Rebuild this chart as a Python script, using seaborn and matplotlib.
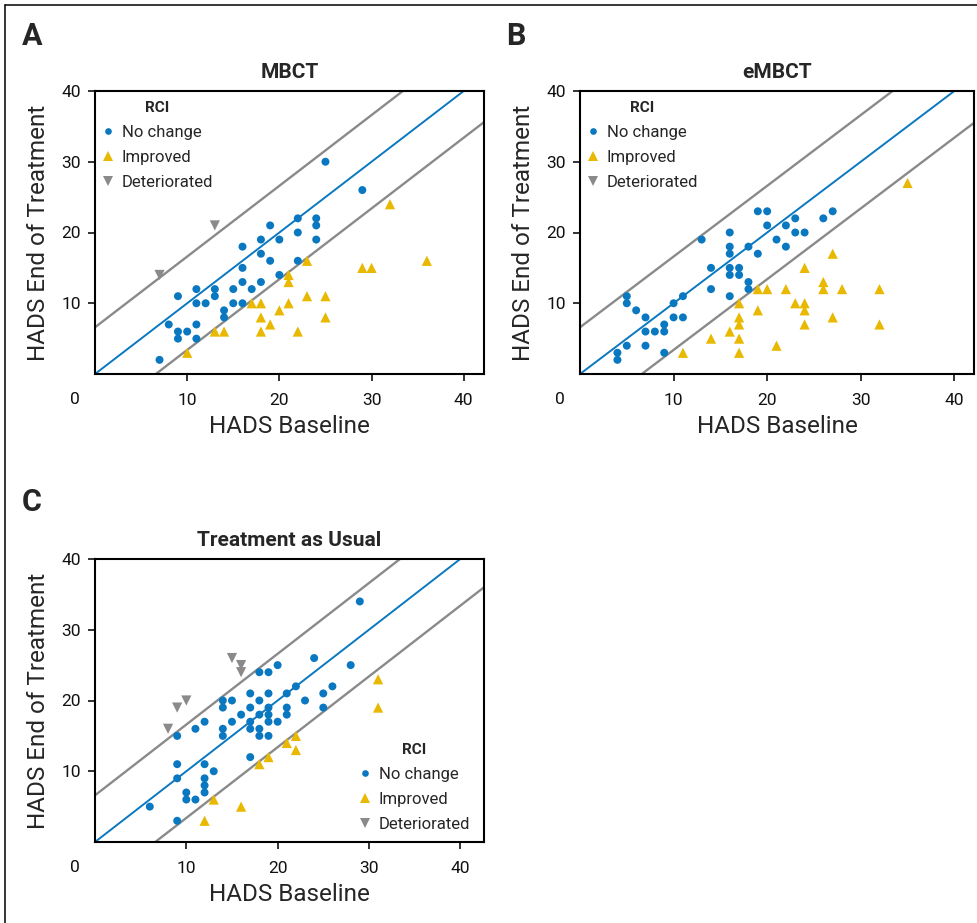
import matplotlib
matplotlib.use("Agg")
import matplotlib.pyplot as plt
from matplotlib.lines import Line2D
import seaborn as sns
import pandas as pd

sns.set_theme(style="ticks")
plt.rcParams['font.family'] = ['Roboto', 'DejaVu Sans']

BLUE = "#0a78c0"
YELLOW = "#e9b800"
GRAY = "#8a8a8a"

# RCI band around the identity line
RCI_BAND = 6.6

# --- A: MBCT ---
mbct_nc_base = [7, 8, 9, 9, 9, 10, 11, 11, 11, 11, 12, 13, 13, 14, 14, 15, 15, 16, 16, 16, 16,
                17, 18, 18, 18, 19, 19, 20, 20, 22, 22, 22, 24, 24, 24, 25, 29]
mbct_nc_end = [2, 7, 11, 6, 5, 6, 12, 10, 7, 5, 10, 12, 11, 9, 8, 12, 10, 18, 15, 13, 10,
               12, 19, 17, 13, 21, 16, 19, 14, 22, 20, 16, 22, 21, 19, 30, 26]
mbct_imp_base = [10, 13, 14, 17, 18, 18, 18, 19, 20, 21, 21, 21, 22, 23, 23, 25, 25, 29, 30, 32, 36]
mbct_imp_end = [3, 6, 6, 10, 10, 8, 6, 7, 9, 14, 13, 10, 6, 16, 11, 11, 8, 15, 15, 24, 16]
mbct_det_base = [7, 13]
mbct_det_end = [14, 21]

# --- B: eMBCT ---
embct_nc_base = [4, 4, 5, 5, 5, 6, 7, 7, 7, 8, 9, 9, 9, 10, 10, 11, 11, 13, 14, 14, 16, 16, 16,
                 16, 16, 16, 17, 17, 18, 18, 18, 19, 19, 20, 20, 21, 22, 22, 23, 23, 24, 26, 27]
embct_nc_end = [2, 3, 4, 10, 11, 9, 8, 6, 4, 6, 6, 7, 3, 10, 8, 11, 8, 19, 15, 12, 20, 18, 17,
                15, 14, 11, 15, 14, 18, 13, 12, 23, 17, 23, 21, 19, 21, 18, 22, 20, 20, 22, 23]
embct_imp_base = [11, 14, 16, 17, 17, 17, 17, 17, 19, 19, 20, 21, 22, 23, 24, 24, 24, 24, 26,
                  26, 27, 27, 28, 32, 32, 35]
embct_imp_end = [3, 5, 6, 10, 8, 7, 5, 3, 12, 9, 12, 4, 12, 10, 15, 10, 9, 7, 13,
                 12, 17, 8, 12, 12, 7, 27]
embct_det_base = []
embct_det_end = []

# --- C: Treatment as Usual ---
tau_nc_base = [6, 9, 9, 9, 9, 10, 10, 11, 11, 12, 12, 12, 12, 12, 13, 14, 14, 14, 14, 15, 15,
               16, 17, 17, 17, 17, 17, 18, 18, 18, 18, 18, 19, 19, 19, 19, 19, 19, 20, 20,
               21, 21, 21, 22, 23, 24, 25, 25, 26, 28, 29]
tau_nc_end = [5, 3, 9, 11, 15, 7, 6, 6, 16, 7, 8, 9, 11, 17, 10, 15, 16, 19, 20, 20, 17,
              18, 21, 19, 17, 16, 12, 24, 20, 18, 16, 15, 24, 21, 19, 18, 17, 15, 25, 17,
              21, 19, 18, 22, 20, 26, 21, 19, 22, 25, 34]
tau_imp_base = [12, 13, 16, 18, 19, 21, 22, 22, 31, 31]
tau_imp_end = [3, 6, 5, 11, 12, 14, 15, 13, 23, 19]
tau_det_base = [8, 9, 10, 15, 16, 16]
tau_det_end = [16, 19, 20, 26, 25, 24]

categories = ["No change", "Improved", "Deteriorated"]
cat_colors = {"No change": BLUE, "Improved": YELLOW, "Deteriorated": GRAY}
cat_markers = {"No change": "o", "Improved": "^", "Deteriorated": "v"}
cat_sizes = {"No change": 33, "Improved": 54, "Deteriorated": 54}


def make_df(nc_b, nc_e, imp_b, imp_e, det_b, det_e):
    parts = []
    for cat, b, e in [("No change", nc_b, nc_e), ("Improved", imp_b, imp_e),
                      ("Deteriorated", det_b, det_e)]:
        parts.append(pd.DataFrame({"baseline": b, "end": e, "RCI": cat}))
    return pd.concat(parts, ignore_index=True)


panels = [
    ("A", "MBCT", make_df(mbct_nc_base, mbct_nc_end, mbct_imp_base, mbct_imp_end,
                          mbct_det_base, mbct_det_end)),
    ("B", "eMBCT", make_df(embct_nc_base, embct_nc_end, embct_imp_base, embct_imp_end,
                           embct_det_base, embct_det_end)),
    ("C", "Treatment as Usual", make_df(tau_nc_base, tau_nc_end, tau_imp_base, tau_imp_end,
                                        tau_det_base, tau_det_end)),
]

W, H = 977, 923
fig = plt.figure(figsize=(W / 100, H / 100), dpi=100)

# axes boxes in pixels: left, top, right, bottom
boxes = {"A": (95, 91, 484, 374), "B": (580, 91, 974, 374), "C": (95, 559, 484, 842)}
xmax = {"A": 42.2, "B": 42.1, "C": 42.6}
letter_pos = {"A": (22, 36), "B": (506, 36), "C": (22, 502)}
legend_anchor = {"A": (101, 101), "B": (586, 101), "C": (358, 743)}

for letter, title, df in panels:
    l, t, r, b = boxes[letter]
    ax = fig.add_axes([l / W, 1 - b / H, (r - l) / W, (b - t) / H])

    for cat in categories:
        sub = df[df["RCI"] == cat]
        if len(sub) == 0:
            continue
        sns.scatterplot(data=sub, x="baseline", y="end", ax=ax, color=cat_colors[cat],
                        marker=cat_markers[cat], s=cat_sizes[cat], edgecolor="none",
                        linewidth=0, legend=False, zorder=3)

    ax.axline((0, 0), slope=1, color=BLUE, lw=1.4, zorder=2)
    ax.axline((0, RCI_BAND), slope=1, color=GRAY, lw=1.7, zorder=2)
    ax.axline((0, -RCI_BAND), slope=1, color=GRAY, lw=1.7, zorder=2)

    ax.set_xlim(0, xmax[letter])
    ax.set_ylim(0, 40)
    ax.set_xticks([10, 20, 30, 40])
    ax.set_yticks([10, 20, 30, 40])
    ax.tick_params(axis="both", direction="out", length=5, width=1.2, labelsize=12.5,
                   colors="#111111")
    ax.tick_params(axis="x", pad=9)
    ax.tick_params(axis="y", pad=5)
    for sp in ax.spines.values():
        sp.set_visible(True)
        sp.set_linewidth(1.5)
        sp.set_color("black")

    ax.annotate("0", xy=(0, 0), xycoords="data", xytext=(-14.5, -18.5),
                textcoords="offset points", ha="center", va="center", fontsize=12.5,
                color="#111111")

    ax.set_title(title, fontsize=15, fontweight="bold", pad=9)
    ax.set_xlabel("HADS Baseline", fontsize=17.5)
    ax.set_ylabel("HADS End of Treatment", fontsize=17.5)
    ax.xaxis.set_label_coords(0.5, -0.145)
    ax.yaxis.set_label_coords(-0.115, 0.5)

    handles = [Line2D([], [], linestyle="none", marker=cat_markers[c], color=cat_colors[c],
                      markeredgewidth=0, markersize=4.8 if c == "No change" else 6.8)
               for c in categories]
    ax_x, ax_y = legend_anchor[letter]
    leg = ax.legend(handles, categories, title="RCI", loc="upper left",
                    bbox_to_anchor=(ax_x / W, 1 - ax_y / H), bbox_transform=fig.transFigure,
                    frameon=False, fontsize=12, title_fontsize=11, handlelength=0.8,
                    handletextpad=0.45, labelspacing=0.6, borderpad=0, borderaxespad=0)
    leg.get_title().set_fontweight("bold")

    lx, ly = letter_pos[letter]
    fig.text(lx / W, 1 - ly / H, letter, fontsize=22, fontweight="bold", ha="left", va="center")

# outer frame (top and left edges of the figure panel)
fig.add_artist(Line2D([5 / W, 5 / W], [0, 1 - 5 / H], color="black", lw=1.1,
                      transform=fig.transFigure))
fig.add_artist(Line2D([5 / W, 1], [1 - 5 / H, 1 - 5 / H], color="black", lw=1.1,
                      transform=fig.transFigure))

fig.savefig("out.png", dpi=100)
